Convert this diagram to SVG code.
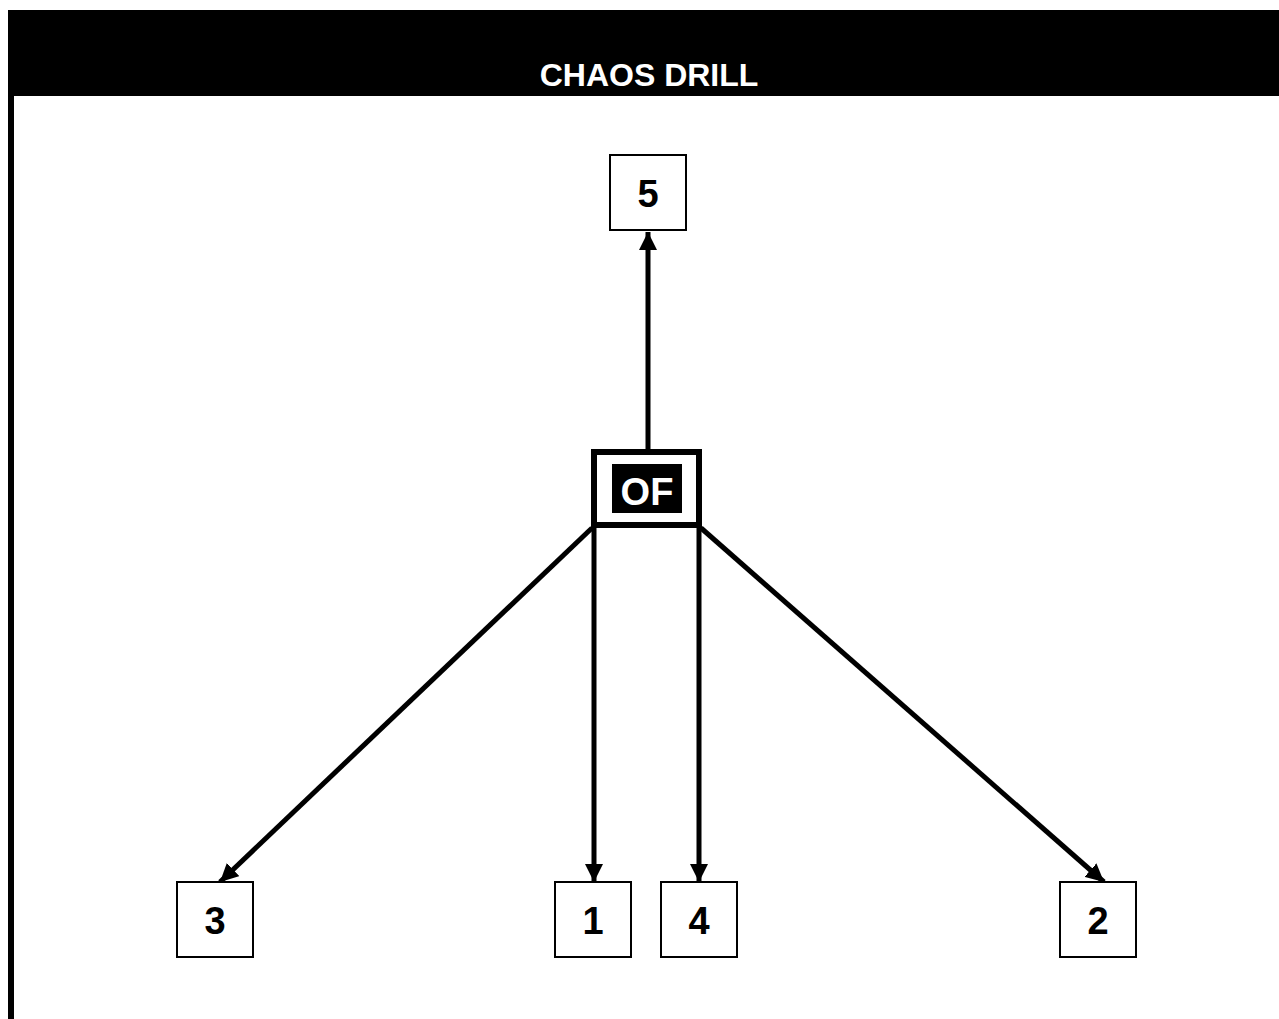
<svg xmlns="http://www.w3.org/2000/svg" width="1279" height="1019" viewBox="0 0 1279 1019">
  <style>
    .box { fill: #ffffff; stroke: #000000; stroke-width: 2; }
    .num { font-family: "Liberation Sans", Arial, sans-serif; font-weight: bold; font-size: 38px; fill: #000000; text-anchor: middle; }
    .link { stroke: #000000; stroke-width: 5; fill: none; marker-end: url(#head); }
  </style>
  <defs>
    <marker id="head" viewBox="0 0 18 18" refX="18" refY="9" markerWidth="18" markerHeight="18" markerUnits="userSpaceOnUse" orient="auto">
      <path d="M0,0 L18,9 L0,18 Z" fill="#000000"/>
    </marker>
  </defs>

  <rect x="0" y="0" width="1279" height="1019" fill="#ffffff"/>

  <!-- header band and left rule -->
  <g id="header">
    <rect x="8" y="10" width="1271" height="86" fill="#000000"/>
    <rect x="8" y="10" width="6" height="1009" fill="#000000"/>
    <text x="649" y="86" font-family="'Liberation Sans', Arial, sans-serif" font-weight="bold" font-size="32" fill="#ffffff" text-anchor="middle">CHAOS DRILL</text>
  </g>

  <!-- connectors -->
  <g id="connectors">
    <line class="link" x1="648" y1="450" x2="648" y2="232"/>
    <line class="link" x1="592" y1="528" x2="220" y2="882"/>
    <line class="link" x1="594" y1="526" x2="594" y2="882"/>
    <line class="link" x1="699" y1="526" x2="699" y2="882"/>
    <line class="link" x1="701" y1="528" x2="1104" y2="882"/>
  </g>

  <g id="node-of">
    <rect x="594" y="452" width="105" height="73" fill="#ffffff" stroke="#000000" stroke-width="6"/>
    <rect x="612" y="464" width="70" height="49" fill="#000000"/>
    <text x="647" y="505" font-family="'Liberation Sans', Arial, sans-serif" font-weight="bold" font-size="38" fill="#ffffff" text-anchor="middle">OF</text>
  </g>

  <g id="node-5">
    <rect class="box" x="610" y="155" width="76" height="75"/>
    <text class="num" x="648" y="207">5</text>
  </g>

  <g id="node-3">
    <rect class="box" x="177" y="882" width="76" height="75"/>
    <text class="num" x="215" y="934">3</text>
  </g>

  <g id="node-1">
    <rect class="box" x="555" y="882" width="76" height="75"/>
    <text class="num" x="593" y="934">1</text>
  </g>

  <g id="node-4">
    <rect class="box" x="661" y="882" width="76" height="75"/>
    <text class="num" x="699" y="934">4</text>
  </g>

  <g id="node-2">
    <rect class="box" x="1060" y="882" width="76" height="75"/>
    <text class="num" x="1098" y="934">2</text>
  </g>
</svg>
